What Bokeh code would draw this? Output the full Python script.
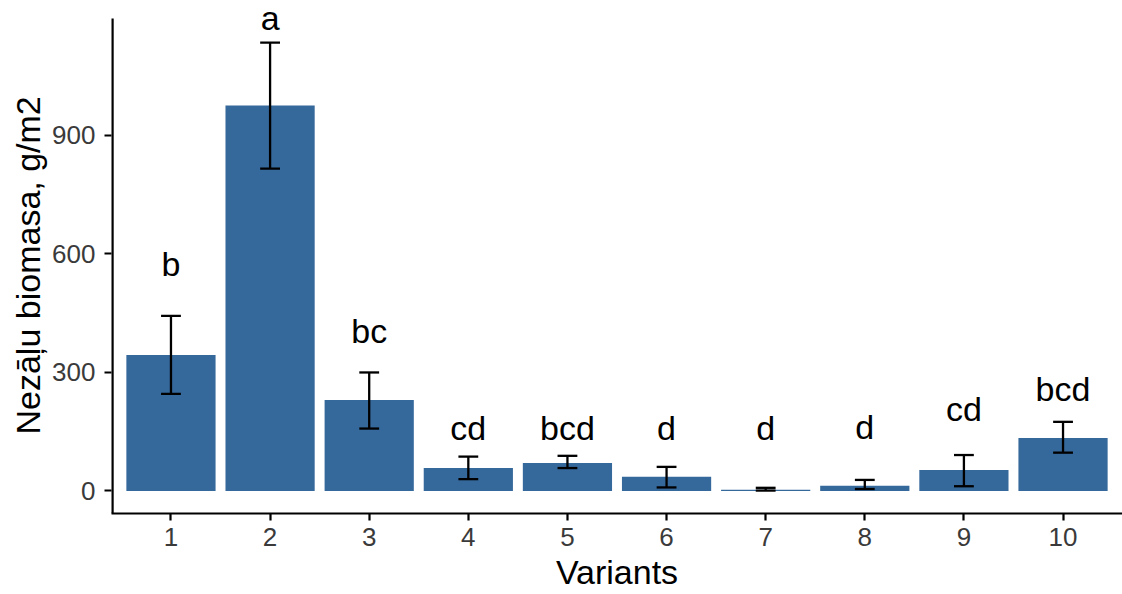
from bokeh.plotting import figure
from bokeh.models import ColumnDataSource, Range1d, FixedTicker, LabelSet, Title
from bokeh.core.properties import value
from bokeh.embed import file_html
from bokeh.resources import INLINE

# ---- data ----
variants = [1, 2, 3, 4, 5, 6, 7, 8, 9, 10]
biomass = [344, 976, 230, 58, 71, 36, 3, 13, 53, 134]
err_low = [246, 816, 158, 30, 58, 9, 1, 5, 12, 97]
err_high = [443, 1135, 300, 87, 89, 61, 8, 28, 91, 175]
letters = ["b", "a", "bc", "cd", "bcd", "d", "d", "d", "cd", "bcd"]
letter_y = [539, 1161, 370, 125, 125, 125, 125, 127, 171, 222]
y_ticks = [0, 300, 600, 900]

# panel limits (ggplot-style expanded range); the frame is extended upward
# so that the top letter is not clipped, while the axis line keeps panel length
X_LO, X_HI = 0.4, 10.6
Y_LO, Y_PANEL_HI, Y_FRAME_HI = -57, 1196, 1241.5

FONT = "Liberation Sans"
BAR_COLOR = "#35689B"
CAP_HALF = 0.1

src = ColumnDataSource(dict(
    x=variants, top=biomass, lo=err_low, hi=err_high,
    cap_l=[v - CAP_HALF for v in variants], cap_r=[v + CAP_HALF for v in variants],
    lab=letters, lab_y=letter_y,
))

p = figure(width=1122, height=594, output_backend="svg", toolbar_location=None,
           x_range=Range1d(X_LO, X_HI), y_range=Range1d(Y_LO, Y_FRAME_HI),
           min_border_left=111, min_border_right=0, min_border_top=0,
           min_border_bottom=81)
p.outline_line_color = None
p.background_fill_color = "white"
p.border_fill_color = "white"
p.xgrid.visible = False
p.ygrid.visible = False

p.vbar(x="x", top="top", bottom=0, width=0.9, source=src,
       fill_color=BAR_COLOR, line_color=None)
p.segment(x0="x", y0="lo", x1="x", y1="hi", source=src, line_color="black", line_width=2.3)
p.segment(x0="cap_l", y0="hi", x1="cap_r", y1="hi", source=src, line_color="black", line_width=2.3)
p.segment(x0="cap_l", y0="lo", x1="cap_r", y1="lo", source=src, line_color="black", line_width=2.3)

# left axis line limited to the panel height
p.segment(x0=[X_LO], y0=[Y_LO], x1=[X_LO], y1=[Y_PANEL_HI], line_color="black", line_width=4.4)

labels = LabelSet(x="x", y="lab_y", text="lab", source=src, text_align="center",
                  text_baseline="alphabetic", y_offset=2, text_font=value(FONT),
                  text_font_size="34px", text_color="black")
p.add_layout(labels)

for ax in (p.xaxis[0], p.yaxis[0]):
    ax.axis_line_color = "black"
    ax.axis_line_width = 2.2
    ax.major_tick_line_color = "black"
    ax.major_tick_line_width = 2.2
    ax.major_tick_out = 7
    ax.major_tick_in = 0
    ax.minor_tick_line_color = None
    ax.major_label_text_font = FONT
    ax.major_label_text_font_size = "26px"
    ax.major_label_text_color = "#3A3A3A"
    ax.axis_label_text_font = FONT
    ax.axis_label_text_font_size = "34px"
    ax.axis_label_text_font_style = "normal"
    ax.axis_label_text_color = "black"
p.yaxis.axis_line_color = None

p.xaxis.ticker = FixedTicker(ticks=variants)
p.yaxis.ticker = FixedTicker(ticks=y_ticks)
p.xaxis.axis_label = "Variants"
p.xaxis.major_label_standoff = 7
p.yaxis.major_label_standoff = 9
p.xaxis.axis_label_standoff = 4

# y title as a side title so it can be centred on the panel (not the frame)
ytitle = Title(text="Nezāļu biomasa, g/m2", align="left", offset=79, standoff=6,
               text_font=FONT, text_font_size="34px", text_font_style="normal",
               text_color="black")
p.add_layout(ytitle, "left")

open("out.html", "w").write(file_html(p, INLINE))
